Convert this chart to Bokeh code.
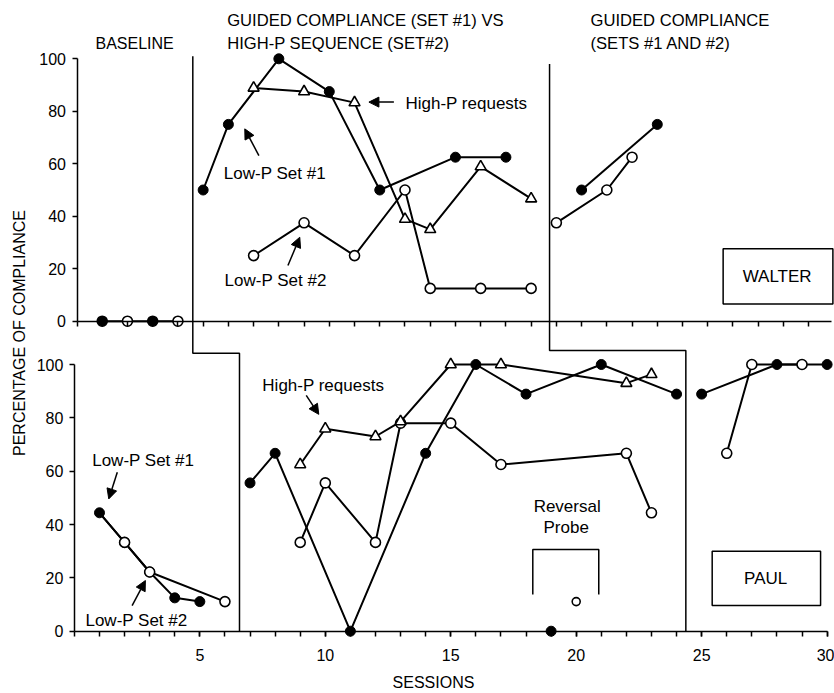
from bokeh.plotting import figure
from bokeh.models import Range1d, LinearAxis, FixedTicker, Arrow, NormalHead
from bokeh.core.properties import value
from bokeh.embed import file_html
from bokeh.resources import INLINE

FONT = "Liberation Sans"

# ---------------- data: WALTER (top panel) ----------------
wal_base_sessions = [1, 2, 3, 4]
wal_base_values = [0, 0, 0, 0]
wal_base_is_set1 = [True, False, True, False]

wal_hp_set1_x = [5, 6, 8, 10, 12, 15, 17]
wal_hp_set1_y = [50, 75, 100, 87.5, 50, 62.5, 62.5]
wal_hp_highp_x = [7, 9, 11, 13, 14, 16, 18]
wal_hp_highp_y = [88.9, 87.5, 83.3, 38.9, 35, 58.9, 46.7]
wal_hp_set2_x = [7, 9, 11, 13, 14, 16, 18]
wal_hp_set2_y = [25, 37.5, 25, 50, 12.5, 12.5, 12.5]

wal_gc_set1_x = [20, 23]
wal_gc_set1_y = [50, 75]
wal_gc_set2_x = [19, 21, 22]
wal_gc_set2_y = [37.5, 50, 62.5]

# ---------------- data: PAUL (bottom panel) ----------------
paul_base_set1_x = [1, 2, 3, 4, 5]
paul_base_set1_y = [44.4, 33.3, 22.2, 12.5, 11.1]
paul_base_set2_x = [1, 2, 3, 6]
paul_base_set2_y = [44.4, 33.3, 22.2, 11.1]

paul_hp_set1_x = [7, 8, 11, 14, 16, 18, 21, 24]
paul_hp_set1_y = [55.6, 66.7, 0, 66.7, 100, 88.9, 100, 88.9]
paul_hp_highp_x = [9, 10, 12, 13, 15, 17, 22, 23]
paul_hp_highp_y = [62.5, 75.9, 73, 78.6, 100, 100, 93, 96.3]
paul_hp_set2_x = [9, 10, 12, 13, 15, 17, 22, 23]
paul_hp_set2_y = [33.3, 55.6, 33.3, 78, 78, 62.5, 66.7, 44.4]

paul_probe_set1_x = [19]
paul_probe_set1_y = [0]
paul_probe_set2_x = [20]
paul_probe_set2_y = [11.1]

paul_gc_set1_x = [25, 28, 30]
paul_gc_set1_y = [88.9, 100, 100]
paul_gc_set2_x = [26, 27, 29]
paul_gc_set2_y = [66.7, 100, 100]

# condition-change lines (session positions, top panel / bottom panel)
walter_change_x = [4.59, 18.73]
paul_change_x = [6.58, 24.37]

y_ticks = [0, 20, 40, 60, 80, 100]
x_label_ticks = [5, 10, 15, 20, 25, 30]
x_all_ticks = list(range(0, 31))

# ---------------- figure geometry (pixels) ----------------
W, H = 834, 693
LEFT, BOTTOM = 32, 28
FRAME_W, FRAME_H = W - LEFT, H - BOTTOM
# bottom panel: x=0 at px 73.9, 25.09 px/session ; y=0 at px 630.7, 2.667 px/%
# top panel:    x=0 at px 76.5, 25.23 px/session ; y=0 at px 320.7, 2.624 px/%
BX0, BXS, BY0, BYS = 73.9, 25.09, 630.7, 2.667
TX0, TXS, TY0, TYS = 76.5, 25.23, 320.7, 2.624

bx_start = -(BX0 - LEFT) / BXS
bx_end = bx_start + FRAME_W / BXS
tx_start = -(TX0 - LEFT) / TXS
tx_end = tx_start + FRAME_W / TXS
by_start = -(FRAME_H - BY0) / BYS
by_end = by_start + FRAME_H / BYS
ty_start = -(FRAME_H - TY0) / TYS
ty_end = ty_start + FRAME_H / TYS


def tx2bx(x):
    return bx_start + (x - tx_start) * (bx_end - bx_start) / (tx_end - tx_start)


def ty2by(y):
    return by_start + (y - ty_start) * (by_end - by_start) / (ty_end - ty_start)


p = figure(width=W, height=H, x_range=Range1d(bx_start, bx_end),
           y_range=Range1d(by_start, by_end), output_backend="svg", toolbar_location=None,
           min_border_left=LEFT, min_border_right=0, min_border_top=0,
           min_border_bottom=BOTTOM)
p.extra_x_ranges = {"top": Range1d(tx_start, tx_end)}
p.extra_y_ranges = {"top": Range1d(ty_start, ty_end)}
p.outline_line_color = None
p.xgrid.visible = False
p.ygrid.visible = False
p.background_fill_color = "white"
p.border_fill_color = "white"


def title_axis(ax, label, standoff):
    ax.ticker = FixedTicker(ticks=[])
    ax.axis_line_color = None
    ax.major_tick_out = 0
    ax.major_tick_in = 0
    ax.minor_tick_out = 0
    ax.minor_tick_in = 0
    ax.major_label_standoff = 0
    ax.axis_label = label
    ax.axis_label_standoff = standoff
    ax.axis_label_text_font = FONT
    ax.axis_label_text_font_size = "16px"
    ax.axis_label_text_font_style = "normal"
    ax.axis_label_text_color = "black"


title_axis(p.xaxis[0], "SESSIONS", 8)
title_axis(p.yaxis[0], "PERCENTAGE OF COMPLIANCE", 5)


def style_axis(ax, tick_out, standoff):
    ax.axis_line_color = "black"
    ax.axis_line_width = 1.5
    ax.major_tick_line_color = "black"
    ax.major_tick_line_width = 1.5
    ax.major_tick_out = tick_out
    ax.major_tick_in = 0
    ax.minor_tick_line_color = "black"
    ax.minor_tick_line_width = 1.5
    ax.minor_tick_out = tick_out
    ax.minor_tick_in = 0
    ax.major_label_text_font = FONT
    ax.major_label_text_font_size = "16px"
    ax.major_label_text_color = "black"
    ax.major_label_standoff = standoff


yb = LinearAxis(fixed_location=0, bounds=(0, 100), ticker=FixedTicker(ticks=y_ticks))
yt = LinearAxis(fixed_location=0, bounds=(0, 100), x_range_name="top", y_range_name="top",
                ticker=FixedTicker(ticks=y_ticks))
xb = LinearAxis(fixed_location=0, bounds=(0, 30),
                ticker=FixedTicker(ticks=x_label_ticks, minor_ticks=x_all_ticks))
xt = LinearAxis(fixed_location=0, bounds=(0, 29.9), x_range_name="top", y_range_name="top",
                ticker=FixedTicker(ticks=[], minor_ticks=x_all_ticks[:-1]))
for ax in (yb, yt):
    style_axis(ax, 5, 6)
for ax in (xb, xt):
    style_axis(ax, 5, 13)
p.add_layout(yb, "left")
p.add_layout(yt, "left")
p.add_layout(xb, "below")
p.add_layout(xt, "below")

LW = 2
MS = 10


def series(x, y, kind, rng="default", draw_line=True, size=MS):
    kw = dict(x_range_name=rng, y_range_name=rng)
    if draw_line:
        p.line(x, y, line_color="black", line_width=LW, **kw)
    if kind == "filled":
        p.scatter(x, y, marker="circle", size=size, fill_color="black", line_color="black",
                  line_width=1, **kw)
    elif kind == "open":
        p.scatter(x, y, marker="circle", size=size, fill_color="white", line_color="black",
                  line_width=1.6, **kw)
    else:
        p.scatter(x, y, marker="triangle", size=size + 1, fill_color="white",
                  line_color="black", line_width=1.6, **kw)


# ---------------- condition change lines ----------------
for xt_, xb_, top_end, step in zip(walter_change_x, paul_change_x, [101, 98], [-12.2, -11.2]):
    s = ty2by(step)
    p.line([tx2bx(xt_), tx2bx(xt_), xb_, xb_], [ty2by(top_end), s, s, 0],
           line_color="black", line_width=1.5)

# ---------------- WALTER ----------------
p.line(wal_base_sessions, wal_base_values, line_color="black", line_width=LW,
       x_range_name="top", y_range_name="top")
p.scatter(wal_base_sessions, wal_base_values, marker="circle", size=MS,
          fill_color=["black" if f else "white" for f in wal_base_is_set1],
          line_color="black", line_width=1.6, x_range_name="top", y_range_name="top")
series(wal_hp_set1_x, wal_hp_set1_y, "filled", "top")
series(wal_hp_set2_x, wal_hp_set2_y, "open", "top")
series(wal_hp_highp_x, wal_hp_highp_y, "tri", "top")
series(wal_gc_set1_x, wal_gc_set1_y, "filled", "top")
series(wal_gc_set2_x, wal_gc_set2_y, "open", "top")

# ---------------- PAUL ----------------
p.line(paul_base_set2_x, paul_base_set2_y, line_color="black", line_width=LW)
series(paul_base_set1_x, paul_base_set1_y, "filled")
series(paul_base_set2_x[1:], paul_base_set2_y[1:], "open", draw_line=False)
series(paul_hp_set1_x, paul_hp_set1_y, "filled")
series(paul_hp_set2_x, paul_hp_set2_y, "open")
series(paul_hp_highp_x, paul_hp_highp_y, "tri")
series(paul_probe_set1_x, paul_probe_set1_y, "filled", draw_line=False)
series(paul_probe_set2_x, paul_probe_set2_y, "open", draw_line=False, size=8)
series(paul_gc_set1_x, paul_gc_set1_y, "filled")
series(paul_gc_set2_x, paul_gc_set2_y, "open")

# reversal probe bracket
p.line([18.27, 18.27, 20.90, 20.90], [13.8, 30.6, 30.6, 13.8], line_color="black",
       line_width=1.5)

# name boxes
p.quad(left=[25.61], right=[29.96], bottom=[6.6], top=[27.6], fill_color=None,
       line_color="black", line_width=1.5, x_range_name="top", y_range_name="top")
p.quad(left=[25.42], right=[29.74], bottom=[9.6], top=[30.0], fill_color=None,
       line_color="black", line_width=1.5)


# ---------------- texts ----------------
def texts(xs, ys, labels, rng="default", align="left", size="17px"):
    p.text(x=xs, y=ys, text=labels, text_font=value(FONT), text_font_size=size,
           text_color="black", text_baseline="middle", text_align=align,
           x_range_name=rng, y_range_name=rng)


texts([0.84], [220.3], ["BASELINE"], size="16px")
texts([6.09, 6.09, 20.57, 20.57], [229.0, 220.3, 229.0, 220.3],
      ["GUIDED COMPLIANCE (SET #1) VS", "HIGH-P  SEQUENCE (SET#2)",
       "GUIDED COMPLIANCE", "(SETS #1 AND #2)"], size="16.6px")

texts([13.02, 5.82, 5.85], [82.9, 56.2, 15.5],
      ["High-P  requests", "Low-P Set #1", "Low-P Set #2"], rng="top")
texts([27.75], [17.0], ["WALTER"], rng="top", align="center")

texts([7.49, 0.71, 0.44], [92.1, 64.0, 4.0],
      ["High-P  requests", "Low-P Set #1", "Low-P Set #2"])
texts([19.64, 19.60], [46.9, 39.0], ["Reversal", "Probe"], align="center")
texts([27.55], [19.8], ["PAUL"], align="center")


# ---------------- arrows ----------------
def arrow(x0, y0, x1, y1, rng="default"):
    p.add_layout(Arrow(end=NormalHead(size=10, fill_color="black", line_color="black"),
                       x_start=x0, y_start=y0, x_end=x1, y_end=y1,
                       line_color="black", line_width=1.5,
                       x_range_name=rng, y_range_name=rng))


arrow(12.56, 83.5, 11.57, 83.5, "top")
arrow(7.21, 63.1, 6.65, 73.3, "top")
arrow(8.36, 21.2, 8.83, 32.0, "top")
arrow(9.24, 88.4, 9.74, 81.3)
arrow(1.71, 59.6, 1.37, 49.6)
arrow(2.30, 9.6, 2.83, 19.0)

open("out.html", "w").write(file_html(p, INLINE))
